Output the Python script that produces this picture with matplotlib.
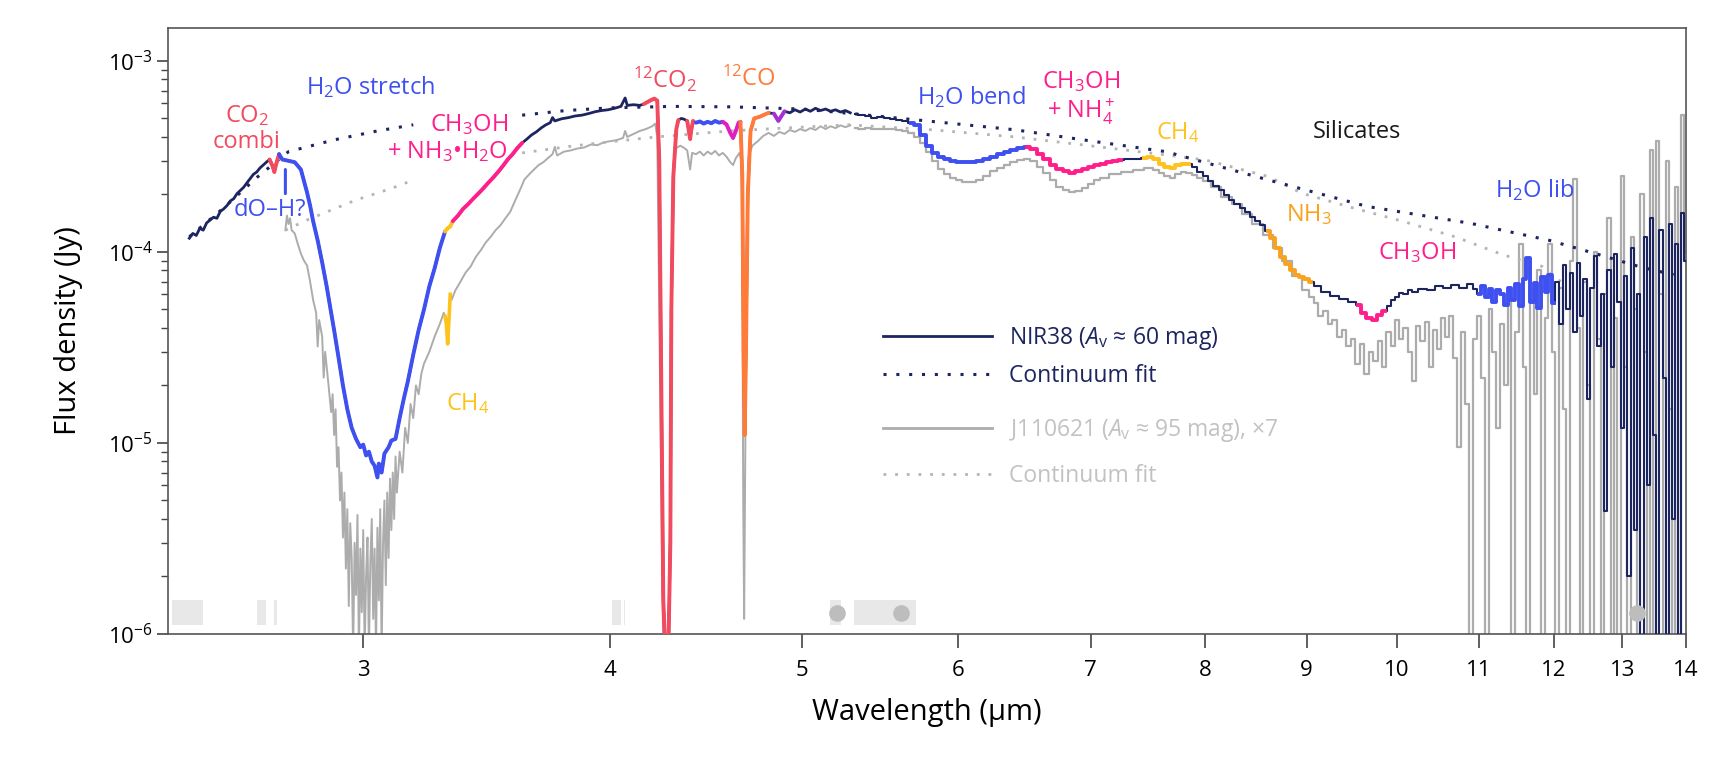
import numpy as np
import matplotlib
matplotlib.use("Agg")
import matplotlib.pyplot as plt
from matplotlib.ticker import FixedLocator, NullLocator, LogLocator, NullFormatter, FixedFormatter
from matplotlib.lines import Line2D

plt.rcParams['font.family'] = ['Open Sans', 'DejaVu Sans']
plt.rcParams['mathtext.fontset'] = 'custom'
plt.rcParams['mathtext.rm'] = 'Open Sans'
plt.rcParams['mathtext.it'] = 'Open Sans:italic'
plt.rcParams['mathtext.bf'] = 'Open Sans:bold'

# ---------------- data ----------------
# NIR38, NIRSpec part (wavelength um, flux Jy)
nir_wl_short = [2.45, 2.46, 2.47, 2.48, 2.49, 2.50, 2.51, 2.52, 2.53, 2.54, 2.55, 2.56, 2.57, 2.58, 2.59,
                2.60, 2.61, 2.62, 2.63, 2.64, 2.65, 2.66, 2.67, 2.68, 2.69, 2.70, 2.705, 2.71, 2.72, 2.73,
                2.75, 2.77, 2.79, 2.80, 2.81, 2.82, 2.83, 2.845, 2.86, 2.875, 2.89, 2.90, 2.915, 2.93, 2.945,
                2.96, 2.975, 2.99, 3.00, 3.01, 3.02, 3.03, 3.04, 3.05, 3.055, 3.065, 3.075, 3.09, 3.10, 3.115,
                3.13, 3.145, 3.16, 3.18, 3.20, 3.22, 3.24, 3.26, 3.28, 3.30, 3.31, 3.32, 3.33, 3.35, 3.37,
                3.39, 3.41, 3.43, 3.45, 3.47, 3.49, 3.51, 3.53, 3.55, 3.57, 3.59, 3.61, 3.63, 3.65, 3.67,
                3.69, 3.71, 3.73, 3.74, 3.75, 3.78, 3.81, 3.84, 3.87, 3.90, 3.93, 3.96, 3.99, 4.02, 4.05,
                4.07, 4.08, 4.11, 4.14, 4.16, 4.19, 4.21, 4.225, 4.235, 4.245, 4.255, 4.265, 4.28, 4.29, 4.295,
                4.305, 4.32, 4.33, 4.345, 4.36, 4.375, 4.385, 4.39, 4.395, 4.405, 4.42, 4.44, 4.46, 4.48, 4.50,
                4.52, 4.54, 4.56, 4.58, 4.60, 4.615, 4.63, 4.645, 4.655, 4.665, 4.672, 4.678, 4.685, 4.695, 4.71,
                4.73, 4.76, 4.79, 4.81, 4.84, 4.865, 4.88, 4.90, 4.93, 4.96, 4.99, 5.02, 5.05, 5.08, 5.11,
                5.14, 5.17, 5.20, 5.23, 5.26, 5.29]
nir_fl_short = [1.18e-4, 1.25e-4, 1.22e-4, 1.33e-4, 1.30e-4, 1.42e-4, 1.47e-4, 1.52e-4, 1.50e-4, 1.63e-4,
                1.68e-4, 1.75e-4, 1.85e-4, 1.90e-4, 2.02e-4, 2.10e-4, 2.18e-4, 2.30e-4, 2.42e-4, 2.55e-4,
                2.62e-4, 2.75e-4, 2.85e-4, 2.95e-4, 3.05e-4, 2.80e-4, 2.62e-4, 2.85e-4, 3.25e-4, 3.05e-4,
                3.00e-4, 2.95e-4, 2.70e-4, 2.35e-4, 2.05e-4, 1.75e-4, 1.45e-4, 1.15e-4, 8.8e-5, 6.6e-5,
                4.8e-5, 3.9e-5, 2.8e-5, 2.0e-5, 1.5e-5, 1.2e-5, 1.05e-5, 9.5e-6, 9.8e-6, 8.6e-6,
                9.0e-6, 8.0e-6, 7.6e-6, 6.6e-6, 7.8e-6, 7.0e-6, 8.8e-6, 9.5e-6, 1.03e-5, 1.05e-5,
                1.35e-5, 1.7e-5, 2.1e-5, 2.9e-5, 3.9e-5, 5.0e-5, 6.6e-5, 8.2e-5, 1.05e-4, 1.28e-4,
                1.33e-4, 1.36e-4, 1.45e-4, 1.55e-4, 1.68e-4, 1.78e-4, 1.90e-4, 2.02e-4, 2.15e-4, 2.30e-4,
                2.45e-4, 2.62e-4, 2.82e-4, 3.05e-4, 3.25e-4, 3.50e-4, 3.72e-4, 3.90e-4, 4.10e-4, 4.25e-4,
                4.45e-4, 4.62e-4, 4.75e-4, 5.05e-4, 4.85e-4, 4.98e-4, 5.05e-4, 5.15e-4, 5.20e-4, 5.30e-4,
                5.42e-4, 5.50e-4, 5.55e-4, 5.65e-4, 5.78e-4, 6.4e-4, 5.85e-4, 5.90e-4, 5.85e-4, 5.95e-4,
                6.2e-4, 6.35e-4, 6.2e-4, 3.0e-4, 2.0e-5, 1.5e-6, 8e-7, 8e-7, 3.0e-6, 5.0e-5,
                2.5e-4, 4.4e-4, 4.9e-4, 5.0e-4, 4.95e-4, 4.85e-4, 4.2e-4, 3.9e-4, 4.3e-4, 4.85e-4,
                4.75e-4, 4.82e-4, 4.70e-4, 4.80e-4, 4.72e-4, 4.85e-4, 4.75e-4, 4.80e-4, 4.65e-4, 4.2e-4,
                3.95e-4, 4.3e-4, 4.75e-4, 4.8e-4, 2.5e-4, 3.0e-5, 1.1e-5, 3.0e-5, 2.0e-4, 4.3e-4,
                5.0e-4, 5.1e-4, 5.25e-4, 5.35e-4, 5.30e-4, 4.85e-4, 5.1e-4, 5.45e-4, 5.35e-4, 5.55e-4,
                5.40e-4, 5.60e-4, 5.45e-4, 5.65e-4, 5.50e-4, 5.60e-4, 5.45e-4, 5.55e-4, 5.40e-4, 5.50e-4,
                5.35e-4]

# NIR38, MIRI part
nir_wl_long = [5.32, 5.36, 5.40, 5.44, 5.48, 5.52, 5.56, 5.60, 5.64, 5.68, 5.72, 5.76, 5.80, 5.84, 5.88,
               5.92, 5.96, 6.00, 6.05, 6.10, 6.15, 6.20, 6.25, 6.30, 6.35, 6.40, 6.45, 6.50, 6.55, 6.60,
               6.65, 6.70, 6.75, 6.80, 6.85, 6.90, 6.95, 7.00, 7.05, 7.10, 7.15, 7.20, 7.25, 7.30, 7.35,
               7.40, 7.45, 7.50, 7.55, 7.60, 7.65, 7.70, 7.75, 7.80, 7.85, 7.90, 7.95, 8.00, 8.05, 8.10,
               8.15, 8.20, 8.25, 8.30, 8.35, 8.40, 8.45, 8.50, 8.55, 8.60, 8.65, 8.70, 8.75, 8.80, 8.85,
               8.90, 8.95, 9.00, 9.05, 9.10, 9.20, 9.30, 9.40, 9.50, 9.56, 9.62, 9.68, 9.74, 9.80, 9.86,
               9.90, 9.95, 10.0, 10.05, 10.1, 10.15, 10.2, 10.3, 10.4, 10.5, 10.6, 10.7, 10.8, 10.9, 10.95,
               11.0, 11.05, 11.1, 11.15, 11.2, 11.25, 11.3, 11.35, 11.4, 11.45, 11.5, 11.55, 11.6, 11.65, 11.7,
               11.75, 11.8, 11.85, 11.9, 11.95, 12.0, 12.05, 12.1, 12.15, 12.2, 12.25, 12.3, 12.35, 12.4, 12.45,
               12.5, 12.55, 12.6, 12.65, 12.7, 12.75, 12.8, 12.85, 12.9, 12.95, 13.0, 13.05, 13.1, 13.15, 13.2,
               13.25, 13.3, 13.35, 13.4, 13.45, 13.5, 13.55, 13.6, 13.65, 13.7, 13.75, 13.8, 13.85, 13.9, 13.95,
               14.0]
nir_fl_long = [5.30e-4, 5.20e-4, 5.15e-4, 5.05e-4, 5.10e-4, 5.00e-4, 4.95e-4, 4.90e-4, 4.85e-4, 4.75e-4,
               4.60e-4, 4.1e-4, 3.6e-4, 3.3e-4, 3.15e-4, 3.05e-4, 3.0e-4, 2.95e-4, 2.95e-4, 2.97e-4,
               3.0e-4, 3.08e-4, 3.15e-4, 3.25e-4, 3.32e-4, 3.40e-4, 3.48e-4, 3.55e-4, 3.45e-4, 3.25e-4,
               3.05e-4, 2.85e-4, 2.72e-4, 2.65e-4, 2.60e-4, 2.65e-4, 2.72e-4, 2.78e-4, 2.85e-4, 2.90e-4,
               2.95e-4, 3.00e-4, 3.03e-4, 3.05e-4, 3.05e-4, 3.08e-4, 3.12e-4, 3.15e-4, 3.05e-4, 2.90e-4,
               2.78e-4, 2.75e-4, 2.85e-4, 2.88e-4, 2.88e-4, 2.80e-4, 2.62e-4, 2.50e-4, 2.35e-4, 2.22e-4,
               2.10e-4, 1.98e-4, 1.88e-4, 1.78e-4, 1.70e-4, 1.62e-4, 1.53e-4, 1.45e-4, 1.38e-4, 1.28e-4,
               1.18e-4, 1.05e-4, 9.4e-5, 8.6e-5, 8.0e-5, 7.6e-5, 7.4e-5, 7.2e-5, 7.0e-5, 6.6e-5,
               6.2e-5, 5.9e-5, 5.7e-5, 5.5e-5, 5.3e-5, 4.8e-5, 4.5e-5, 4.4e-5, 4.7e-5, 4.9e-5,
               5.2e-5, 5.6e-5, 5.8e-5, 6.1e-5, 6.0e-5, 6.3e-5, 6.2e-5, 6.4e-5, 6.3e-5, 6.6e-5,
               6.5e-5, 6.7e-5, 6.5e-5, 6.8e-5, 6.4e-5, 6.0e-5, 6.6e-5, 5.8e-5, 6.4e-5, 5.5e-5,
               6.3e-5, 6.0e-5, 5.3e-5, 6.5e-5, 5.6e-5, 6.8e-5, 5.2e-5, 7.2e-5, 9.3e-5, 5.5e-5,
               6.9e-5, 5.1e-5, 7.4e-5, 6.2e-5, 7.6e-5, 5.4e-5, 7.0e-5, 4.2e-5, 8.5e-5, 5.0e-5,
               7.8e-5, 3.8e-5, 8.8e-5, 4.6e-5, 7.2e-5, 1.7e-5, 6.5e-5, 9.5e-5, 3.2e-5, 6.0e-5,
               4.4e-6, 8.0e-5, 2.5e-5, 9.8e-5, 5.5e-5, 1.2e-5, 7.5e-5, 2.0e-6, 1.05e-4, 3.5e-6,
               6.0e-5, 8e-7, 1.2e-4, 6e-6, 1.5e-4, 1.1e-5, 8e-7, 1.3e-4, 2.2e-5, 8e-7,
               1.4e-4, 4.0e-6, 1.1e-4, 8e-7, 1.6e-4, 9.0e-5]

# J110621 (x7), NIRSpec part
j_wl_short = [2.74, 2.745, 2.75, 2.755, 2.76, 2.77, 2.78, 2.79, 2.80, 2.81, 2.82, 2.83, 2.84, 2.845, 2.85,
              2.86, 2.865, 2.87, 2.88, 2.89, 2.895, 2.90, 2.905, 2.91, 2.915, 2.92, 2.925, 2.93, 2.935, 2.94,
              2.945, 2.95, 2.955, 2.96, 2.965, 2.97, 2.975, 2.98, 2.985, 2.99, 2.995, 3.00, 3.005, 3.01, 3.015,
              3.02, 3.025, 3.03, 3.035, 3.04, 3.045, 3.05, 3.055, 3.06, 3.065, 3.07, 3.075, 3.08, 3.085, 3.09,
              3.095, 3.10, 3.105, 3.11, 3.115, 3.12, 3.13, 3.14, 3.15, 3.16, 3.17, 3.18, 3.19, 3.20, 3.21,
              3.22, 3.24, 3.26, 3.28, 3.295, 3.30, 3.305, 3.31, 3.315, 3.32, 3.325, 3.34, 3.36, 3.38, 3.40,
              3.42, 3.44, 3.46, 3.48, 3.50, 3.52, 3.54, 3.56, 3.58, 3.60, 3.62, 3.64, 3.66, 3.68, 3.70,
              3.72, 3.74, 3.75, 3.76, 3.79, 3.82, 3.85, 3.88, 3.91, 3.94, 3.97, 4.00, 4.03, 4.06, 4.07,
              4.08, 4.11, 4.14, 4.17, 4.20, 4.215, 4.225, 4.235, 4.245, 4.255, 4.28, 4.29, 4.30, 4.31, 4.32,
              4.34, 4.36, 4.375, 4.39, 4.40, 4.42, 4.44, 4.46, 4.48, 4.50, 4.52, 4.54, 4.56, 4.58, 4.60,
              4.615, 4.63, 4.65, 4.66, 4.665, 4.67, 4.675, 4.68, 4.69, 4.70, 4.72, 4.75, 4.78, 4.81, 4.84,
              4.87, 4.90, 4.93, 4.96, 4.99, 5.02, 5.05, 5.08, 5.11, 5.14, 5.17, 5.20, 5.23, 5.26, 5.29]
j_fl_short = [1.30e-4, 1.55e-4, 1.40e-4, 1.50e-4, 1.30e-4, 1.25e-4, 1.10e-4, 9.8e-5, 9.0e-5, 8.5e-5,
              7.0e-5, 5.6e-5, 4.8e-5, 3.2e-5, 4.4e-5, 3.6e-5, 2.2e-5, 3.0e-5, 2.1e-5, 1.45e-5,
              1.8e-5, 1.1e-5, 1.5e-5, 7.5e-6, 9.5e-6, 5.0e-6, 7.0e-6, 3.2e-6, 5.5e-6, 2.2e-6,
              4.5e-6, 1.4e-6, 3.8e-6, 2.5e-6, 8e-7, 3.0e-6, 1.6e-6, 4.2e-6, 8e-7, 2.8e-6,
              1.3e-6, 3.5e-6, 8e-7, 2.0e-6, 3.2e-6, 8e-7, 2.4e-6, 4.0e-6, 1.2e-6, 2.8e-6,
              8e-7, 3.6e-6, 1.5e-6, 4.5e-6, 8e-7, 3.0e-6, 5.0e-6, 1.8e-6, 5.5e-6, 2.5e-6,
              6.5e-6, 3.5e-6, 7.0e-6, 4.0e-6, 8.5e-6, 5.5e-6, 9.0e-6, 7.0e-6, 1.2e-5, 1.0e-5,
              1.6e-5, 1.35e-5, 2.0e-5, 1.8e-5, 2.3e-5, 2.6e-5, 3.0e-5, 3.6e-5, 4.2e-5, 4.8e-5,
              4.6e-5, 4.2e-5, 3.3e-5, 4.4e-5, 6.0e-5, 5.6e-5, 6.3e-5, 7.0e-5, 7.8e-5, 8.4e-5,
              9.4e-5, 1.02e-4, 1.12e-4, 1.20e-4, 1.30e-4, 1.38e-4, 1.50e-4, 1.62e-4, 1.85e-4, 2.10e-4,
              2.40e-4, 2.55e-4, 2.70e-4, 2.85e-4, 2.95e-4, 3.10e-4, 3.25e-4, 3.55e-4, 3.20e-4, 3.35e-4,
              3.40e-4, 3.48e-4, 3.52e-4, 3.65e-4, 3.62e-4, 3.75e-4, 3.80e-4, 3.85e-4, 3.95e-4, 4.3e-4,
              4.0e-4, 4.15e-4, 4.30e-4, 4.40e-4, 4.55e-4, 4.7e-4, 4.0e-4, 5.0e-5, 5e-6, 8e-7,
              8e-7, 5e-6, 1.5e-4, 3.2e-4, 3.5e-4, 3.6e-4, 3.5e-4, 3.4e-4, 2.7e-4, 3.3e-4,
              3.25e-4, 3.35e-4, 3.20e-4, 3.35e-4, 3.25e-4, 3.38e-4, 3.20e-4, 3.30e-4, 3.15e-4, 2.95e-4,
              2.85e-4, 3.10e-4, 3.30e-4, 3.0e-4, 1.0e-4, 5.0e-6, 1.2e-6, 6.0e-6, 1.5e-4, 3.2e-4,
              3.6e-4, 3.8e-4, 4.05e-4, 4.2e-4, 4.05e-4, 4.25e-4, 4.15e-4, 4.35e-4, 4.25e-4, 4.40e-4,
              4.30e-4, 4.45e-4, 4.35e-4, 4.55e-4, 4.40e-4, 4.55e-4, 4.45e-4, 4.60e-4, 4.50e-4, 4.60e-4]

# J110621 (x7), MIRI part
j_wl_long = [5.32, 5.36, 5.40, 5.44, 5.48, 5.52, 5.56, 5.60, 5.64, 5.68, 5.72, 5.76, 5.80, 5.84, 5.88,
             5.92, 5.96, 6.00, 6.05, 6.10, 6.15, 6.20, 6.25, 6.30, 6.35, 6.40, 6.45, 6.50, 6.55, 6.60,
             6.65, 6.70, 6.75, 6.80, 6.85, 6.90, 6.95, 7.00, 7.05, 7.10, 7.20, 7.30, 7.40, 7.50, 7.55,
             7.60, 7.65, 7.70, 7.75, 7.80, 7.85, 7.90, 7.95, 8.00, 8.10, 8.20, 8.30, 8.40, 8.50, 8.60,
             8.70, 8.80, 8.90, 9.00, 9.05, 9.10, 9.15, 9.20, 9.25, 9.30, 9.35, 9.40, 9.45, 9.50, 9.55,
             9.60, 9.65, 9.70, 9.75, 9.80, 9.85, 9.90, 9.95, 10.0, 10.05, 10.1, 10.15, 10.2, 10.25, 10.3,
             10.35, 10.4, 10.45, 10.5, 10.55, 10.6, 10.65, 10.7, 10.75, 10.8, 10.85, 10.9, 10.95, 11.0, 11.05,
             11.1, 11.15, 11.2, 11.25, 11.3, 11.35, 11.4, 11.45, 11.5, 11.55, 11.6, 11.65, 11.7, 11.75, 11.8,
             11.85, 11.9, 11.95, 12.0, 12.05, 12.1, 12.15, 12.2, 12.25, 12.3, 12.35, 12.4, 12.45, 12.5, 12.55,
             12.6, 12.65, 12.7, 12.75, 12.8, 12.85, 12.9, 12.95, 13.0, 13.05, 13.1, 13.15, 13.2, 13.25, 13.3,
             13.35, 13.4, 13.45, 13.5, 13.55, 13.6, 13.65, 13.7, 13.75, 13.8, 13.85, 13.9, 13.95, 14.0]
j_fl_long = [4.45e-4, 4.40e-4, 4.45e-4, 4.38e-4, 4.40e-4, 4.42e-4, 4.38e-4, 4.36e-4, 4.30e-4, 4.20e-4,
             4.0e-4, 3.7e-4, 3.35e-4, 3.0e-4, 2.72e-4, 2.55e-4, 2.45e-4, 2.38e-4, 2.33e-4, 2.33e-4,
             2.38e-4, 2.50e-4, 2.65e-4, 2.75e-4, 2.85e-4, 2.95e-4, 3.03e-4, 3.08e-4, 3.00e-4, 2.80e-4,
             2.60e-4, 2.38e-4, 2.20e-4, 2.10e-4, 2.05e-4, 2.08e-4, 2.15e-4, 2.28e-4, 2.38e-4, 2.45e-4,
             2.55e-4, 2.62e-4, 2.70e-4, 2.76e-4, 2.70e-4, 2.58e-4, 2.50e-4, 2.45e-4, 2.55e-4, 2.62e-4,
             2.60e-4, 2.52e-4, 2.45e-4, 2.35e-4, 2.18e-4, 1.95e-4, 1.78e-4, 1.58e-4, 1.40e-4, 1.22e-4,
             1.05e-4, 9.0e-5, 7.5e-5, 6.3e-5, 5.8e-5, 5.4e-5, 4.6e-5, 4.9e-5, 4.2e-5, 4.4e-5,
             3.6e-5, 3.9e-5, 3.2e-5, 3.5e-5, 2.6e-5, 3.3e-5, 2.3e-5, 3.0e-5, 2.7e-5, 3.4e-5,
             2.5e-5, 3.8e-5, 3.2e-5, 4.4e-5, 3.5e-5, 4.0e-5, 3.0e-5, 2.1e-5, 4.1e-5, 3.4e-5,
             4.3e-5, 2.5e-5, 3.9e-5, 3.1e-5, 4.5e-5, 3.6e-5, 4.6e-5, 2.8e-5, 9.5e-6, 3.8e-5,
             1.6e-5, 8e-7, 3.5e-5, 4.6e-5, 2.2e-5, 8e-7, 5.0e-5, 3.0e-5, 1.2e-5, 4.2e-5,
             2.0e-5, 5.5e-5, 8e-7, 3.8e-5, 1.1e-4, 2.5e-5, 8e-7, 6.0e-5, 1.8e-5, 8.0e-5,
             8e-7, 4.5e-5, 1.1e-4, 3.0e-5, 8e-7, 6.5e-5, 1.5e-5, 8e-7, 9.0e-5, 2.4e-4,
             4.0e-5, 8e-7, 7.0e-5, 2.0e-5, 8e-7, 1.0e-4, 3.5e-5, 8e-7, 6.0e-5, 1.5e-4,
             8e-7, 4.5e-5, 8e-7, 2.5e-4, 2.5e-5, 8e-7, 1.2e-4, 5.0e-5, 8e-7, 2.0e-4,
             3.0e-5, 8e-7, 3.4e-4, 8e-7, 3.8e-4, 6.0e-5, 8e-7, 3.0e-4, 1.5e-5, 8e-7,
             2.2e-4, 8e-7, 5.2e-4, 1.0e-4]

# continuum fits (nan = gap)
nir_cont_wl = [2.45, 2.55, 2.65, 2.75, 2.90, 3.05, 3.18, np.nan, 3.61, 3.80, 4.00, 4.30, 4.60, 5.00, 5.30,
               5.82, 6.41, 6.94, 7.64, 8.61, 9.66, 10.9, 11.94, 12.6, 13.3, 13.8]
nir_cont_fl = [1.2e-4, 1.7e-4, 2.45e-4, 3.35e-4, 3.86e-4, 4.3e-4, 4.63e-4, np.nan, 5.2e-4, 5.5e-4, 5.68e-4,
               5.78e-4, 5.75e-4, 5.6e-4, 5.3e-4, 4.82e-4, 4.36e-4, 3.86e-4, 3.35e-4, 2.38e-4, 1.73e-4,
               1.41e-4, 1.15e-4, 9.8e-5, 8.3e-5, 7.6e-5]
j_cont_wl = [2.74, 2.81, 2.90, 2.975, 3.10, 3.18, np.nan, 3.61, 3.80, 3.93, 4.22, 4.60, 5.00, 5.28, 5.82,
             6.41, 6.94, 7.64, 8.00, 8.61, 8.95, 9.50, 10.06, 10.7, 11.3, 11.84, 12.1]
j_cont_fl = [1.3e-4, 1.47e-4, 1.68e-4, 1.87e-4, 2.15e-4, 2.38e-4, np.nan, 3.3e-4, 3.55e-4, 3.7e-4, 4.0e-4,
             4.3e-4, 4.5e-4, 4.63e-4, 4.36e-4, 4.0e-4, 3.63e-4, 3.22e-4, 3.03e-4, 2.48e-4, 2.03e-4, 1.7e-4,
             1.45e-4, 1.2e-4, 9.7e-5, 8.4e-5, 7.0e-5]

# coloured feature segments on NIR38 (start um, end um, colour key)
seg_start = [2.69, 2.72, 3.30, 3.33, 4.16, 4.375, 4.42, 4.56, 4.655, 4.84, 5.68, 6.50, 7.45, 8.575, 9.53, 10.975]
seg_end = [2.72, 3.30, 3.33, 3.61, 4.33, 4.405, 4.56, 4.655, 4.81, 4.90, 6.50, 7.25, 7.85, 9.05, 9.86, 12.025]
seg_color = ['red', 'blue', 'yellow', 'pink', 'red', 'red', 'blue', 'magenta', 'orange', 'purple',
             'blue', 'pink', 'yellow', 'amber', 'pink', 'blue']
# CH4 feature on J110621
j_seg_start = [3.30]
j_seg_end = [3.32]

# masked wavelength ranges and markers along the bottom
band_start = [2.40, 2.65, 2.705, 4.01, 4.064, 5.165, 5.31]
band_end = [2.49, 2.68, 2.712, 4.05, 4.07, 5.235, 5.71]
dot_wl = [5.21, 5.61, 13.23]

# annotations
ann_text = ["CO$_2$\ncombi", "dO–H?", "H$_2$O stretch", "CH$_3$OH\n+ NH$_3$•H$_2$O", "$^{12}$CO$_2$",
            "$^{12}$CO", "H$_2$O bend", "CH$_3$OH\n+ NH$_4^+$", "CH$_4$", "Silicates", "NH$_3$",
            "CH$_3$OH", "H$_2$O lib", "CH$_4$"]
ann_x = [2.62, 2.69, 3.025, 3.55, 4.263, 4.70, 6.09, 6.92, 7.75, 9.54, 9.02, 10.24, 11.74, 3.39]
ann_y = [4.4e-4, 1.66e-4, 7.3e-4, 3.95e-4, 8.0e-4, 8.0e-4, 6.48e-4, 6.4e-4, 4.2e-4, 4.27e-4, 1.56e-4,
         9.9e-5, 2.1e-4, 1.6e-5]
ann_color = ['red', 'blue', 'blue', 'pink', 'red', 'orange', 'blue', 'pink', 'yellow', 'black', 'amber',
             'pink', 'blue', 'yellow']
ann_ha = ['center', 'center', 'center', 'right', 'center', 'center', 'center', 'center', 'center',
          'center', 'center', 'center', 'center', 'center']

x_ticks = [3, 4, 5, 6, 7, 8, 9, 10, 11, 12, 13, 14]

# ---------------- style ----------------
C = {'navy': '#1d2560', 'blue': '#3e50f0', 'red': '#f24a5f', 'pink': '#ff1f8c', 'yellow': '#ffc21c',
     'orange': '#ff7b3a', 'amber': '#fba21c', 'magenta': '#df1fc2', 'purple': '#a530d8',
     'gray': '#acacac', 'grayfit': '#b4b4b4', 'graytext': '#c2c2c2', 'band': '#e8e8e8',
     'dot': '#bdbdbd', 'black': '#1a1a1a'}

fig = plt.figure(figsize=(17.34, 7.57), dpi=100)
ax = fig.add_axes([0.0969, 0.1625, 0.8754, 0.8005])
ax.set_xscale('log')
ax.set_yscale('log')
ax.set_xlim(2.39, 14.0)
ax.set_ylim(1e-6, 1.487e-3)

# bottom bands and dots
for a, b in zip(band_start, band_end):
    ax.axvspan(a, b, ymin=0.015, ymax=0.056, color=C['band'], lw=0, zorder=1)
ax.plot(dot_wl, [1.29e-6] * len(dot_wl), 'o', ms=12, color=C['dot'], mec='none', zorder=9)

# J110621
ax.plot(j_wl_short, j_fl_short, color=C['gray'], lw=1.4, zorder=2)
ax.plot(j_wl_long, j_fl_long, color=C['gray'], lw=1.6, drawstyle='steps-mid', zorder=2)
jw = np.array(j_wl_short); jf = np.array(j_fl_short)
for a, b in zip(j_seg_start, j_seg_end):
    m = (jw >= a - 1e-9) & (jw <= b + 1e-9)
    ax.plot(jw[m], jf[m], color=C['yellow'], lw=2.6, zorder=3)

# continua
ax.plot(j_cont_wl, j_cont_fl, color=C['grayfit'], lw=2.0, ls=(0, (1, 3.2)), zorder=3)
ax.plot(nir_cont_wl, nir_cont_fl, color=C['navy'], lw=2.2, ls=(0, (1, 3.2)), zorder=4)

# NIR38
ax.plot(nir_wl_short, nir_fl_short, color=C['navy'], lw=2.0, zorder=5)
ax.plot(nir_wl_long, nir_fl_long, color=C['navy'], lw=1.5, drawstyle='steps-mid', zorder=5)
sw = np.array(nir_wl_short); sf = np.array(nir_fl_short)
lw_ = np.array(nir_wl_long); lf = np.array(nir_fl_long)
for a, b, c in zip(seg_start, seg_end, seg_color):
    m1 = (sw >= a - 1e-9) & (sw <= b + 1e-9)
    if m1.sum() > 1:
        ax.plot(sw[m1], sf[m1], color=C[c], lw=2.8, zorder=6, solid_capstyle='round')
    m2 = (lw_ >= a - 1e-9) & (lw_ <= b + 1e-9)
    if m2.sum() > 1:
        ax.plot(lw_[m2], lf[m2], color=C[c], lw=2.8, zorder=6, drawstyle='steps-mid')

# annotations
for t, x, y, c, ha in zip(ann_text, ann_x, ann_y, ann_color, ann_ha):
    ax.text(x, y, t, color=C[c], fontsize=17, ha=ha, va='center', multialignment=ha,
            linespacing=1.1, zorder=8)
ax.annotate('', xy=(2.74, 2.7e-4), xytext=(2.74, 2.02e-4),
            arrowprops=dict(arrowstyle='-', color=C['blue'], lw=2.2, shrinkA=0, shrinkB=0), zorder=8)

# axes cosmetics
ax.xaxis.set_major_locator(FixedLocator(x_ticks))
ax.xaxis.set_major_formatter(FixedFormatter([str(v) for v in x_ticks]))
ax.xaxis.set_minor_locator(NullLocator())
ax.yaxis.set_major_locator(LogLocator(base=10, numticks=10))
ax.yaxis.set_minor_locator(LogLocator(base=10, subs=np.arange(2, 10), numticks=20))
ax.yaxis.set_minor_formatter(NullFormatter())
ax.tick_params(axis='x', which='major', direction='out', length=10, width=1.2, labelsize=16, pad=9,
               color='#444444')
ax.tick_params(axis='y', which='major', direction='out', length=8, width=1.2, labelsize=16, pad=3,
               color='#444444')
ax.tick_params(axis='y', which='minor', direction='out', length=5, width=1.0, color='#444444')
for s in ax.spines.values():
    s.set_color('#555555')
    s.set_linewidth(1.2)
ax.set_xlabel('Wavelength (µm)', fontsize=21, labelpad=12)
ax.set_ylabel('Flux density (Jy)', fontsize=21, labelpad=18)

# legends
h1 = [Line2D([], [], color=C['navy'], lw=2.0),
      Line2D([], [], color=C['navy'], lw=2.2, ls=(0, (1, 3.2)))]
l1 = ['NIR38 ($\\mathit{A}_\\mathrm{v}$ ≈ 60 mag)', 'Continuum fit']
h2 = [Line2D([], [], color=C['gray'], lw=2.0),
      Line2D([], [], color=C['grayfit'], lw=2.0, ls=(0, (1, 3.2)))]
l2 = ['J110621 ($\\mathit{A}_\\mathrm{v}$ ≈ 95 mag), ×7', 'Continuum fit']
leg1 = fig.legend(h1, l1, loc='center left', bbox_to_anchor=(0.5094, 0.529), frameon=False,
                  fontsize=16.5, handlelength=4.76, handletextpad=0.74, labelspacing=0.55,
                  borderpad=0, borderaxespad=0)
for t in leg1.get_texts():
    t.set_color(C['navy'])
leg2 = fig.legend(h2, l2, loc='center left', bbox_to_anchor=(0.5094, 0.402), frameon=False,
                  fontsize=16.5, handlelength=4.76, handletextpad=0.74, labelspacing=0.85,
                  borderpad=0, borderaxespad=0)
for t in leg2.get_texts():
    t.set_color(C['graytext'])

fig.savefig('out.png', dpi=100)
